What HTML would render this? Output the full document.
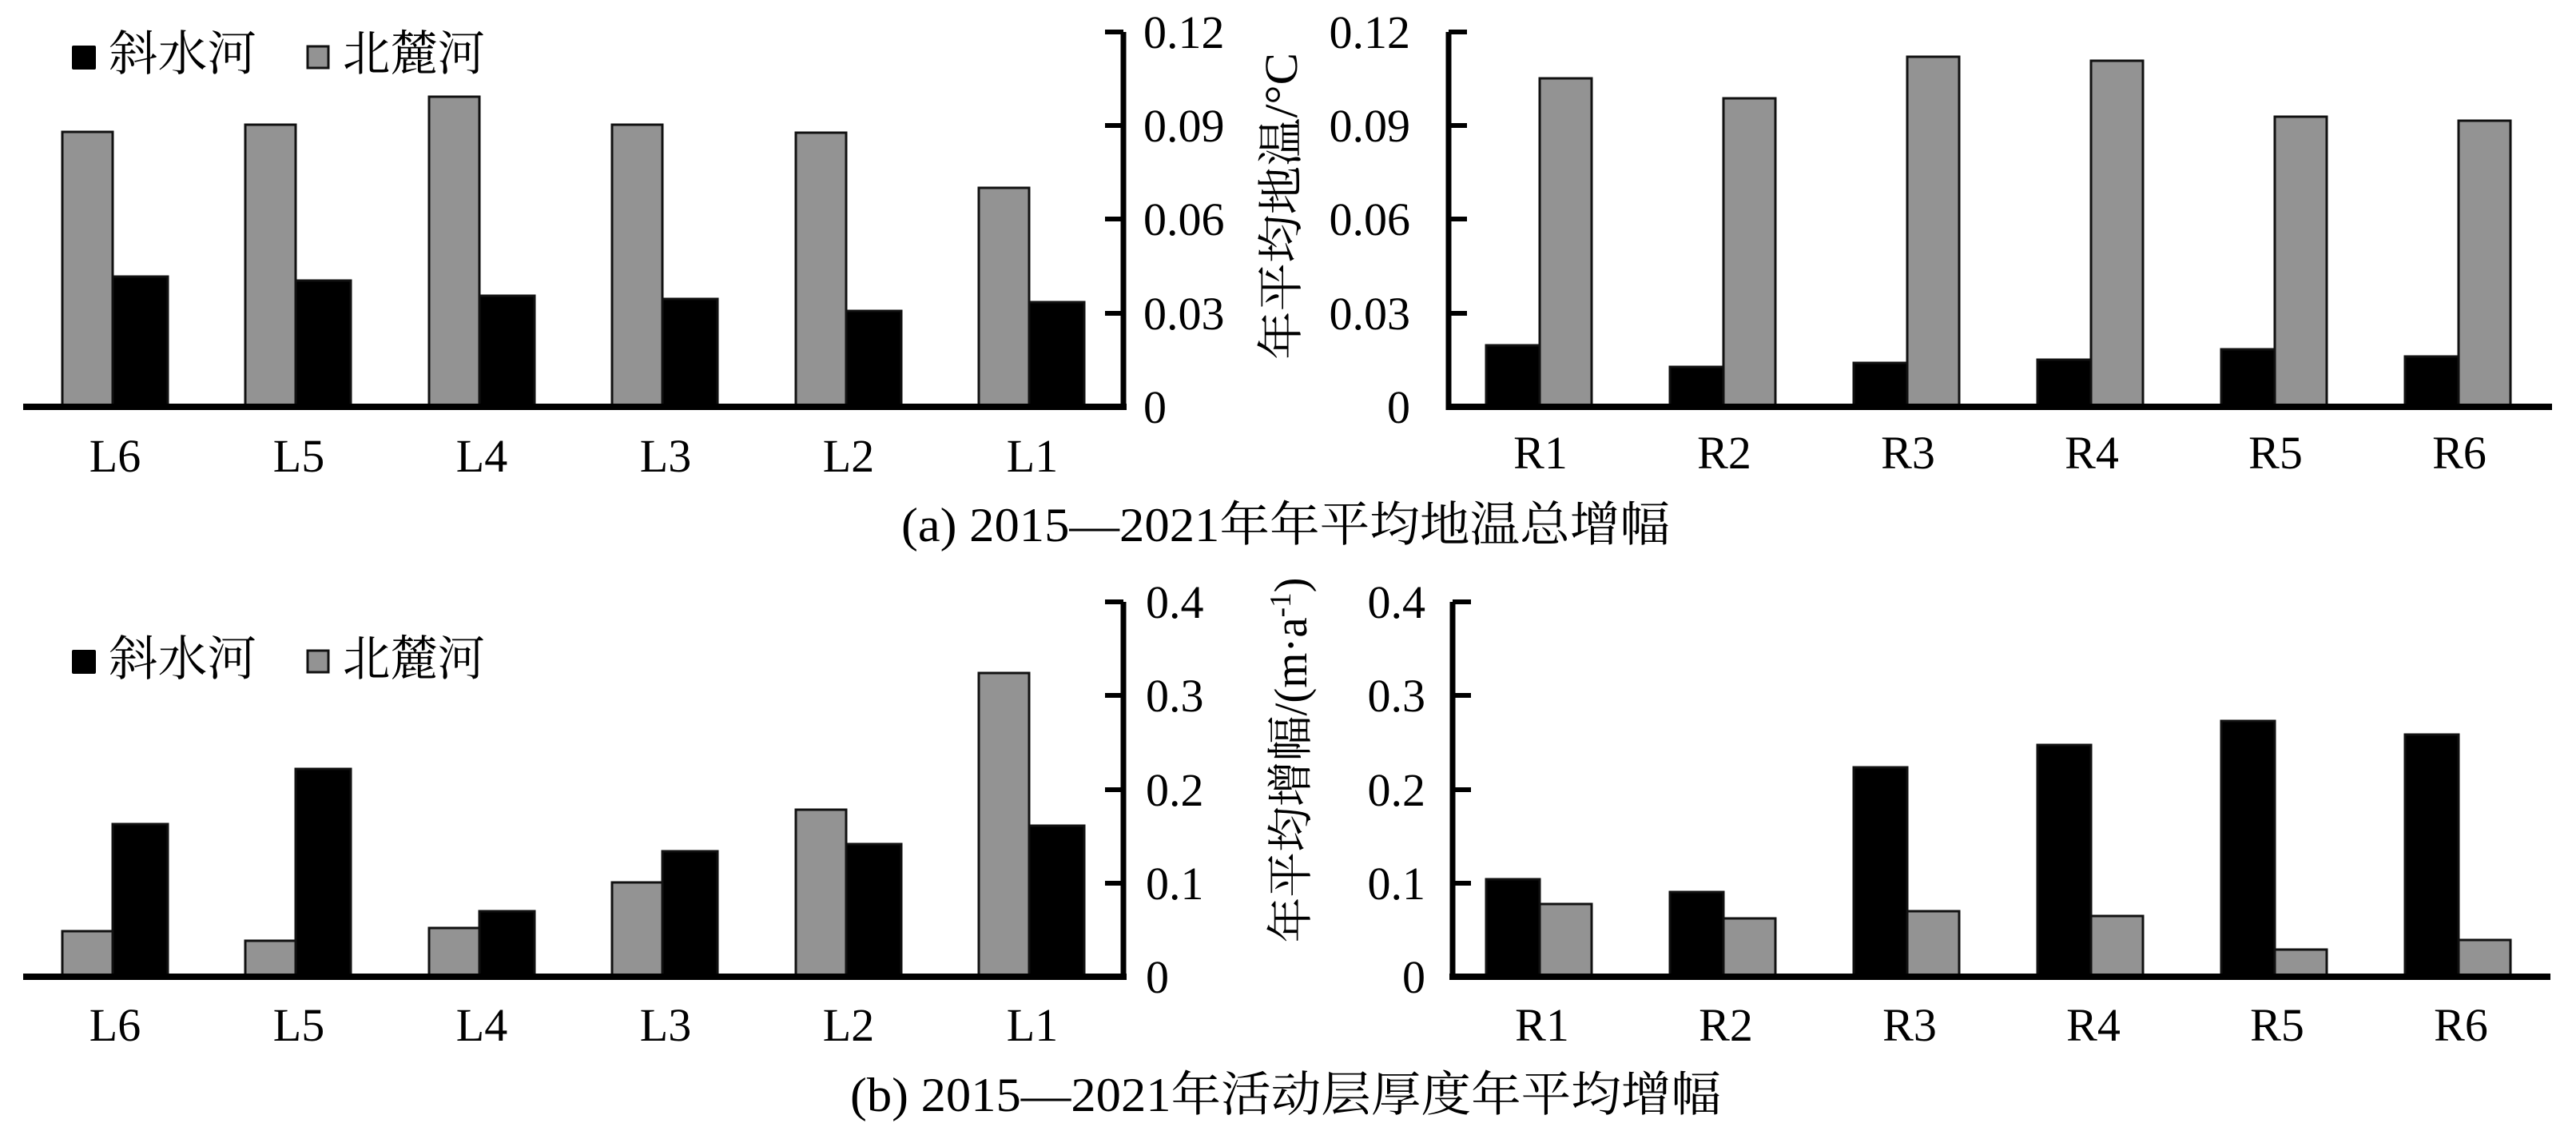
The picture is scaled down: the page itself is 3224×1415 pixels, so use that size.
<!DOCTYPE html>
<html><head><meta charset="utf-8"><style>html,body{margin:0;padding:0;background:#fff}svg{display:block}</style></head>
<body>
<svg width="3224" height="1415" viewBox="0 0 3224 1415" xmlns="http://www.w3.org/2000/svg" font-family="'Liberation Serif','Noto Serif CJK SC',serif">
<rect width="3224" height="1415" fill="#fff"/>
<g id="bars" stroke="#111" stroke-width="3">
<rect x="78" y="165" width="63" height="344" fill="#939393"/>
<rect x="141" y="346" width="69" height="163" fill="#000"/>
<rect x="307" y="156" width="63" height="353" fill="#939393"/>
<rect x="370" y="351" width="69" height="158" fill="#000"/>
<rect x="537" y="121" width="63" height="388" fill="#939393"/>
<rect x="600" y="370" width="69" height="139" fill="#000"/>
<rect x="766" y="156" width="63" height="353" fill="#939393"/>
<rect x="829" y="374" width="69" height="135" fill="#000"/>
<rect x="996" y="166" width="63" height="343" fill="#939393"/>
<rect x="1059" y="389" width="69" height="120" fill="#000"/>
<rect x="1225" y="235" width="63" height="274" fill="#939393"/>
<rect x="1288" y="378" width="69" height="131" fill="#000"/>
<rect x="1860" y="432" width="67" height="77" fill="#000"/>
<rect x="1927" y="98" width="65" height="411" fill="#939393"/>
<rect x="2090" y="459" width="67" height="50" fill="#000"/>
<rect x="2157" y="123" width="65" height="386" fill="#939393"/>
<rect x="2320" y="454" width="67" height="55" fill="#000"/>
<rect x="2387" y="71" width="65" height="438" fill="#939393"/>
<rect x="2550" y="450" width="67" height="59" fill="#000"/>
<rect x="2617" y="76" width="65" height="433" fill="#939393"/>
<rect x="2780" y="437" width="67" height="72" fill="#000"/>
<rect x="2847" y="146" width="65" height="363" fill="#939393"/>
<rect x="3010" y="446" width="67" height="63" fill="#000"/>
<rect x="3077" y="151" width="65" height="358" fill="#939393"/>
<rect x="78" y="1165" width="63" height="57" fill="#939393"/>
<rect x="141" y="1031" width="69" height="191" fill="#000"/>
<rect x="307" y="1177" width="63" height="45" fill="#939393"/>
<rect x="370" y="962" width="69" height="260" fill="#000"/>
<rect x="537" y="1161" width="63" height="61" fill="#939393"/>
<rect x="600" y="1140" width="69" height="82" fill="#000"/>
<rect x="766" y="1104" width="63" height="118" fill="#939393"/>
<rect x="829" y="1065" width="69" height="157" fill="#000"/>
<rect x="996" y="1013" width="63" height="209" fill="#939393"/>
<rect x="1059" y="1056" width="69" height="166" fill="#000"/>
<rect x="1225" y="842" width="63" height="380" fill="#939393"/>
<rect x="1288" y="1033" width="69" height="189" fill="#000"/>
<rect x="1860" y="1100" width="67" height="122" fill="#000"/>
<rect x="1927" y="1131" width="65" height="91" fill="#939393"/>
<rect x="2090" y="1116" width="67" height="106" fill="#000"/>
<rect x="2157" y="1149" width="65" height="73" fill="#939393"/>
<rect x="2320" y="960" width="67" height="262" fill="#000"/>
<rect x="2387" y="1140" width="65" height="82" fill="#939393"/>
<rect x="2550" y="932" width="67" height="290" fill="#000"/>
<rect x="2617" y="1146" width="65" height="76" fill="#939393"/>
<rect x="2780" y="902" width="67" height="320" fill="#000"/>
<rect x="2847" y="1188" width="65" height="34" fill="#939393"/>
<rect x="3010" y="919" width="67" height="303" fill="#000"/>
<rect x="3077" y="1176" width="65" height="46" fill="#939393"/>
</g>
<g stroke="#000" fill="none">
<line x1="29" y1="509" x2="1410" y2="509" stroke-width="8"/>
<line x1="1406" y1="40" x2="1406" y2="513" stroke-width="7"/>
<line x1="1383" y1="40" x2="1406" y2="40" stroke-width="6"/>
<line x1="1383" y1="157" x2="1406" y2="157" stroke-width="6"/>
<line x1="1383" y1="274" x2="1406" y2="274" stroke-width="6"/>
<line x1="1383" y1="392" x2="1406" y2="392" stroke-width="6"/>
<line x1="1810" y1="509" x2="3194" y2="509" stroke-width="8"/>
<line x1="1813" y1="40" x2="1813" y2="513" stroke-width="7"/>
<line x1="1813" y1="40" x2="1836" y2="40" stroke-width="6"/>
<line x1="1813" y1="157" x2="1836" y2="157" stroke-width="6"/>
<line x1="1813" y1="274" x2="1836" y2="274" stroke-width="6"/>
<line x1="1813" y1="392" x2="1836" y2="392" stroke-width="6"/>
<line x1="29" y1="1222" x2="1410" y2="1222" stroke-width="8"/>
<line x1="1406" y1="753" x2="1406" y2="1226" stroke-width="7"/>
<line x1="1383" y1="753" x2="1406" y2="753" stroke-width="6"/>
<line x1="1383" y1="870" x2="1406" y2="870" stroke-width="6"/>
<line x1="1383" y1="988" x2="1406" y2="988" stroke-width="6"/>
<line x1="1383" y1="1105" x2="1406" y2="1105" stroke-width="6"/>
<line x1="1814" y1="1222" x2="3192" y2="1222" stroke-width="8"/>
<line x1="1818" y1="753" x2="1818" y2="1226" stroke-width="7"/>
<line x1="1818" y1="753" x2="1841" y2="753" stroke-width="6"/>
<line x1="1818" y1="870" x2="1841" y2="870" stroke-width="6"/>
<line x1="1818" y1="988" x2="1841" y2="988" stroke-width="6"/>
<line x1="1818" y1="1105" x2="1841" y2="1105" stroke-width="6"/>
</g>
<g font-size="58" fill="#000">
<text x="1431" y="60">0.12</text>
<text x="1431" y="177">0.09</text>
<text x="1431" y="294">0.06</text>
<text x="1431" y="412">0.03</text>
<text x="1431" y="529">0</text>
<g text-anchor="end">
<text x="1765" y="60">0.12</text>
<text x="1765" y="177">0.09</text>
<text x="1765" y="294">0.06</text>
<text x="1765" y="412">0.03</text>
<text x="1765" y="529">0</text>
</g>
<text x="1434" y="773">0.4</text>
<text x="1434" y="890">0.3</text>
<text x="1434" y="1008">0.2</text>
<text x="1434" y="1125">0.1</text>
<text x="1434" y="1242">0</text>
<g text-anchor="end">
<text x="1784" y="773">0.4</text>
<text x="1784" y="890">0.3</text>
<text x="1784" y="1008">0.2</text>
<text x="1784" y="1125">0.1</text>
<text x="1784" y="1242">0</text>
</g>
<g text-anchor="middle">
<text x="144" y="590">L6</text><text x="374" y="590">L5</text><text x="603" y="590">L4</text>
<text x="833" y="590">L3</text><text x="1062" y="590">L2</text><text x="1292" y="590">L1</text>
<text x="1928" y="586">R1</text><text x="2158" y="586">R2</text><text x="2388" y="586">R3</text>
<text x="2618" y="586">R4</text><text x="2848" y="586">R5</text><text x="3078" y="586">R6</text>
<text x="144" y="1302">L6</text><text x="374" y="1302">L5</text><text x="603" y="1302">L4</text>
<text x="833" y="1302">L3</text><text x="1062" y="1302">L2</text><text x="1292" y="1302">L1</text>
<text x="1930" y="1302">R1</text><text x="2160" y="1302">R2</text><text x="2390" y="1302">R3</text>
<text x="2620" y="1302">R4</text><text x="2850" y="1302">R5</text><text x="3080" y="1302">R6</text>
</g>
</g>
<text transform="translate(1623,258) rotate(-90)" text-anchor="middle" font-size="58" textLength="384" lengthAdjust="spacingAndGlyphs">年平均地温/°C</text>
<text transform="translate(1635,951) rotate(-90)" text-anchor="middle" font-size="58" textLength="457" lengthAdjust="spacingAndGlyphs">年平均增幅/(m·a<tspan font-size="38" dy="-20">-1</tspan><tspan dy="20">)</tspan></text>
<g font-size="60">
<rect x="90" y="57" width="30" height="30" fill="#000" rx="2"/>
<text x="136" y="88" textLength="185" lengthAdjust="spacingAndGlyphs">斜水河</text>
<rect x="385" y="58" width="26" height="27" fill="#939393" stroke="#111" stroke-width="3"/>
<text x="429" y="88" textLength="178" lengthAdjust="spacingAndGlyphs">北麓河</text>
<rect x="90" y="813" width="30" height="30" fill="#000" rx="2"/>
<text x="136" y="845" textLength="185" lengthAdjust="spacingAndGlyphs">斜水河</text>
<rect x="385" y="814" width="26" height="27" fill="#939393" stroke="#111" stroke-width="3"/>
<text x="429" y="845" textLength="178" lengthAdjust="spacingAndGlyphs">北麓河</text>
</g>
<text x="1128" y="677" font-size="60" textLength="962" lengthAdjust="spacingAndGlyphs">(a) 2015—2021年年平均地温总增幅</text>
<text x="1064" y="1390" font-size="60" textLength="1090" lengthAdjust="spacingAndGlyphs">(b) 2015—2021年活动层厚度年平均增幅</text>
</svg>
</body></html>
